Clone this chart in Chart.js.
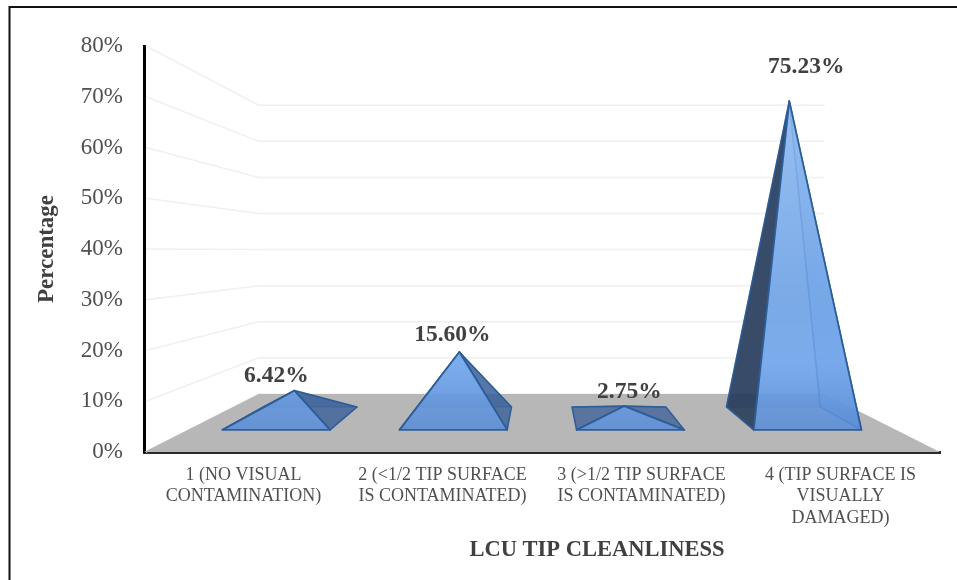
<!DOCTYPE html>
<html>
<head>
<meta charset="utf-8">
<style>html,body{margin:0;padding:0;background:#fff}#w{position:relative;width:957px;height:580px}</style>
<script src="https://cdn.jsdelivr.net/npm/chart.js@4/dist/chart.umd.min.js"></script>
</head>
<body>
<div id="w"><canvas id="c" width="957" height="580"></canvas></div>
<script>
const categories = [
  ['1 (NO VISUAL', 'CONTAMINATION)'],
  ['2 (<1/2 TIP SURFACE', 'IS CONTAMINATED)'],
  ['3 (>1/2 TIP SURFACE', 'IS CONTAMINATED)'],
  ['4 (TIP SURFACE IS', 'VISUALLY', 'DAMAGED)']
];
const percentages = [6.42, 15.60, 2.75, 75.23];
const yMax = 80;
const yStep = 10;
const xTitle = 'LCU TIP CLEANLINESS';

// Styling and perspective settings, kept apart from the data
const FONT = '"Liberation Serif", "Times New Roman", serif';
const VP = {x: 541, y: 251};                    // vanishing point
const DEPTH = {floorBack: 0.711, baseFront: 0.89, baseMid: 0.829, baseBack: 0.776};
const labelOffsets = [[-18, -15], [-7, -17], [5, -14], [17, -34]];
const sideFill = {
  left:  ['rgba(40,70,120,.75)', 'rgba(40,70,120,.75)', 'rgba(52,92,150,.72)', 'rgba(38,58,88,.88)'],
  right: ['rgba(50,90,150,.75)', 'rgba(50,90,150,.75)', 'rgba(52,92,150,.72)', 'rgba(90,140,210,.6)']
};
const project = (px, py, s) => ({x: VP.x + (px - VP.x) * s, y: VP.y + (py - VP.y) * s});

function poly(ctx, pts, fill, stroke, lw) {
  ctx.beginPath();
  pts.forEach((p, i) => i ? ctx.lineTo(p.x, p.y) : ctx.moveTo(p.x, p.y));
  ctx.closePath();
  if (fill) { ctx.fillStyle = fill; ctx.fill(); }
  if (stroke) { ctx.strokeStyle = stroke; ctx.lineWidth = lw; ctx.lineJoin = 'round'; ctx.stroke(); }
}

const scene = {
  id: 'scene',
  beforeDraw(chart) {
    const ctx = chart.ctx;
    ctx.save();
    ctx.fillStyle = '#fff';
    ctx.fillRect(0, 0, chart.width, chart.height);
    ctx.strokeStyle = '#111';
    ctx.lineWidth = 2;
    ctx.beginPath();
    ctx.moveTo(9.5, chart.height); ctx.lineTo(9.5, 7); ctx.lineTo(chart.width, 7);
    ctx.stroke();
    ctx.restore();
  },
  beforeDatasetsDraw(chart) {
    const ctx = chart.ctx, {x: xs, y: ys} = chart.scales, a = chart.chartArea;
    ctx.save();
    // side-wall and back-wall gridlines
    ctx.strokeStyle = '#f0f0f0';
    ctx.lineWidth = 1.5;
    ys.ticks.forEach(t => {
      const py = ys.getPixelForValue(t.value);
      const b1 = project(a.left, py, DEPTH.floorBack), b2 = project(a.right, py, DEPTH.floorBack);
      ctx.beginPath();
      ctx.moveTo(a.left + 2, py); ctx.lineTo(b1.x, b1.y); ctx.lineTo(b2.x, b2.y);
      ctx.stroke();
    });
    // floor
    const y0 = ys.getPixelForValue(0);
    poly(ctx, [
      {x: a.left, y: y0}, project(a.left, y0, DEPTH.floorBack),
      project(a.right, y0, DEPTH.floorBack), {x: a.right, y: y0}
    ], '#b7b7b7');
    // pyramids
    chart.getDatasetMeta(0).data.forEach((bar, i) => {
      const hw = bar.width / 2, cx = bar.x;
      const fl = project(cx - hw, y0, DEPTH.baseFront), fr = project(cx + hw, y0, DEPTH.baseFront);
      const bl = project(cx - hw, y0, DEPTH.baseBack),  br = project(cx + hw, y0, DEPTH.baseBack);
      const apex = project(cx, bar.y, DEPTH.baseMid);
      const edge = 'rgba(44,92,150,.95)';
      const grad = ctx.createLinearGradient(0, 99, 0, 430);
      grad.addColorStop(0, 'rgba(146,190,244,.86)');
      grad.addColorStop(0.6, 'rgba(112,164,232,.86)');
      grad.addColorStop(0.8, 'rgba(112,166,236,.86)');
      grad.addColorStop(1, 'rgba(88,140,214,.88)');
      poly(ctx, [bl, br, apex], 'rgba(70,115,180,.35)', 'rgba(60,105,170,.6)', 1.2);
      poly(ctx, [bl, fl, apex], sideFill.left[i], edge, 1.6);
      poly(ctx, [fr, br, apex], sideFill.right[i], edge, 1.6);
      poly(ctx, [fl, fr, apex], grad, edge, 1.8);
    });
    ctx.restore();
  },
  afterDatasetsDraw(chart) {
    const ctx = chart.ctx;
    ctx.save();
    ctx.font = 'bold 23.5px ' + FONT;
    ctx.fillStyle = '#404040';
    ctx.textAlign = 'center';
    ctx.textBaseline = 'middle';
    chart.getDatasetMeta(0).data.forEach((bar, i) => {
      const apex = project(bar.x, bar.y, DEPTH.baseMid);
      ctx.fillText(percentages[i].toFixed(2) + '%', apex.x + labelOffsets[i][0], apex.y + labelOffsets[i][1]);
    });
    // category axis title sits right of the axis centre in the reference
    ctx.font = 'bold 22.5px ' + FONT;
    ctx.fillText(xTitle, 597, 550);
    ctx.restore();
  }
};

new Chart(document.getElementById('c'), {
  type: 'bar',
  data: {
    labels: categories,
    datasets: [{
      label: 'Percentage',
      data: percentages,
      backgroundColor: 'rgba(0,0,0,0)',
      borderWidth: 0,
      barPercentage: 0.608,
      categoryPercentage: 1
    }]
  },
  plugins: [scene],
  options: {
    responsive: false,
    animation: false,
    layout: {padding: {top: 46, right: 17, left: 0, bottom: 0}},
    plugins: {legend: {display: false}, tooltip: {enabled: false}},
    scales: {
      x: {
        afterFit(s) { s.height = 128; },
        grid: {display: false, drawTicks: false},
        border: {display: true, color: '#2b2b2b', width: 3},
        ticks: {maxRotation: 0, autoSkip: false, padding: 12, color: '#505050', font: {family: FONT, size: 18, lineHeight: 1.2}}
      },
      y: {
        min: 0, max: yMax,
        afterFit(s) { s.width = 144; },
        grid: {display: false, drawTicks: false},
        border: {display: true, color: '#000', width: 3},
        ticks: {stepSize: yStep, padding: 21, color: '#505050', font: {family: FONT, size: 23}, callback: v => v + '%'},
        title: {display: true, text: 'Percentage', color: '#404040', font: {family: FONT, size: 23, weight: 'bold'}, padding: {top: 33, bottom: 0}}
      }
    }
  }
});
</script>
</body>
</html>
